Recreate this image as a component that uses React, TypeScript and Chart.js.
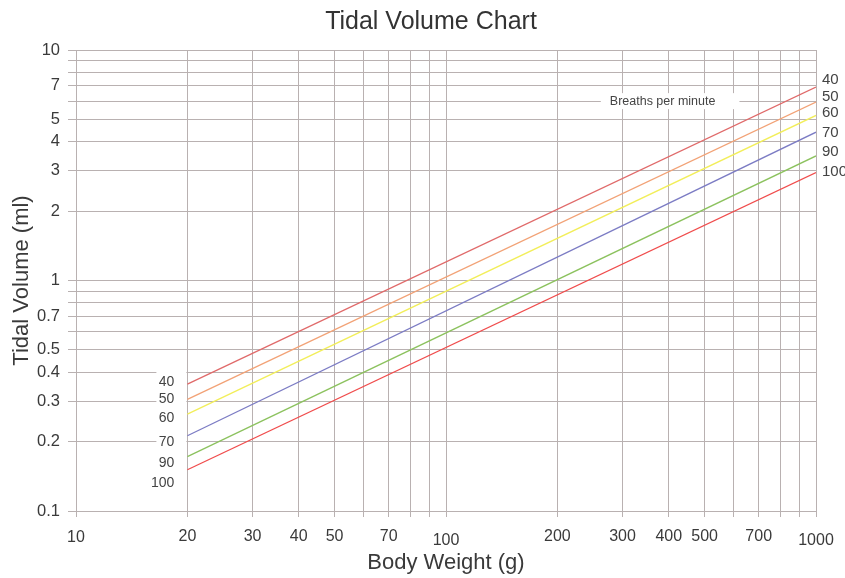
import React, { useEffect, useRef } from "react";
import { Chart, registerables } from "chart.js";

Chart.register(...registerables);

const FONT = "'Liberation Sans', Arial, sans-serif";
const TEXT = "#3a3a3a";
const GRID = "#b9b1b1";

const chartTitle = "Tidal Volume Chart";

// Series: breaths per minute
const breathRates = ["40", "50", "60", "70", "90", "100"];
const weights = [20, 1000];
const tv40 = [0.355, 6.9];
const tv50 = [0.305, 5.95];
const tv60 = [0.263, 5.2];
const tv70 = [0.212, 4.4];
const tv90 = [0.172, 3.47];
const tv100 = [0.151, 2.94];
const seriesValues = [tv40, tv50, tv60, tv70, tv90, tv100];
const seriesColors = ["#e06a6a", "#f2a276", "#f2ee5a", "#7c7cc4", "#8cc25e", "#f04c4c"];

// Axis ticks
const xTickValues = [10, 20, 30, 40, 50, 60, 70, 80, 90, 100, 200, 300, 400, 500, 600, 700, 800, 900, 1000];
const xTickLabels = ["10", "20", "30", "40", "50", "", "70", "", "", "100", "200", "300", "400", "500", "", "700", "", "", "1000"];
const yTickValues = [0.1, 0.2, 0.3, 0.4, 0.5, 0.6, 0.7, 0.8, 0.9, 1, 2, 3, 4, 5, 6, 7, 8, 9, 10];
const yTickLabels = ["0.1", "0.2", "0.3", "0.4", "0.5", "", "0.7", "", "", "1", "2", "3", "4", "5", "", "7", "", "", "10"];

// Series labels (data coordinates)
const leftLabelX = 20;
const leftLabelY = [0.363, 0.306, 0.253, 0.199, 0.161, 0.132];
const rightLabelX = 1000;
const rightLabelY = [7.41, 6.25, 5.33, 4.36, 3.61, 2.96];
const noteText = "Breaths per minute";
const noteX = 385;
const noteY = 6;

const labelPlugin = {
  id: "seriesLabels",
  beforeDatasetsDraw(chart: any) {
    const { ctx, scales } = chart;
    const xs = scales.x;
    const ys = scales.y;
    ctx.save();
    // white box behind left labels
    const lx = xs.getPixelForValue(leftLabelX);
    const topY = ys.getPixelForValue(leftLabelY[0]);
    const botY = ys.getPixelForValue(leftLabelY[leftLabelY.length - 1]);
    ctx.fillStyle = "#ffffff";
    ctx.fillRect(lx - 31, topY - 11, 30, botY - topY + 22);

    ctx.font = "14px " + FONT;
    ctx.fillStyle = "#444";
    ctx.textBaseline = "middle";
    ctx.textAlign = "right";
    breathRates.forEach((r, i) => {
      ctx.fillText(r, lx - 13, ys.getPixelForValue(leftLabelY[i]));
    });
    const rx = xs.getPixelForValue(rightLabelX);
    ctx.font = "15px " + FONT;
    ctx.textAlign = "left";
    breathRates.forEach((r, i) => {
      ctx.fillText(r, rx + 6, ys.getPixelForValue(rightLabelY[i]));
    });

    // note
    ctx.font = "12.5px " + FONT;
    const nx = xs.getPixelForValue(noteX);
    const ny = ys.getPixelForValue(noteY);
    const w = ctx.measureText(noteText).width;
    ctx.fillStyle = "#ffffff";
    ctx.fillRect(nx - w / 2 - 9, ny - 8, w + 33, 16);
    ctx.fillStyle = "#444";
    ctx.textAlign = "center";
    ctx.fillText(noteText, nx, ny);
    ctx.restore();
  },
  afterDraw(chart: any) {
    const { ctx } = chart;
    ctx.save();
    ctx.font = "25px " + FONT;
    ctx.fillStyle = "#333";
    ctx.textAlign = "center";
    ctx.textBaseline = "middle";
    ctx.fillText(chartTitle, 431, 22);
    ctx.restore();
  },
};

export default function App() {
  const ref = useRef<HTMLCanvasElement | null>(null);

  useEffect(() => {
    if (!ref.current) return;
    const chart = new Chart(ref.current, {
      type: "line",
      data: {
        datasets: breathRates.map((r, i) => ({
          label: r,
          data: weights.map((w, j) => ({ x: w, y: seriesValues[i][j] })),
          borderColor: seriesColors[i],
          backgroundColor: seriesColors[i],
          borderWidth: 1.3,
          pointRadius: 0,
          fill: false,
          tension: 0,
        })),
      },
      options: {
        responsive: false,
        animation: false,
        layout: { padding: { top: 50, right: 29, bottom: 0, left: 0 } },
        plugins: {
          legend: { display: false },
          tooltip: { enabled: false },
          title: { display: false },
        },
        scales: {
          x: {
            type: "logarithmic",
            min: 10,
            max: 1000,
            afterBuildTicks: (s: any) => {
              s.ticks = xTickValues.map((v) => ({ value: v }));
            },
            afterFit: (s: any) => {
              s.height = 67;
            },
            grid: { color: GRID, tickLength: 6, lineWidth: 1 },
            border: { display: true, color: GRID },
            ticks: {
              autoSkip: false,
              maxRotation: 0,
              padding: 10,
              color: TEXT,
              font: (c: any) => {
                const v = c.tick ? c.tick.value : 0;
                const lh = v === 100 || v === 1000 ? 27 : v === 10 ? 21 : 19;
                return { size: 16, family: FONT, lineHeight: lh + "px" };
              },
              callback: (_v: any, i: number) => xTickLabels[i],
            },
            title: {
              display: true,
              text: "Body Weight (g)",
              color: TEXT,
              font: { size: 22, family: FONT },
              padding: { top: 0, bottom: 2 },
            },
          },
          y: {
            type: "logarithmic",
            min: 0.1,
            max: 10,
            afterBuildTicks: (s: any) => {
              s.ticks = yTickValues.map((v) => ({ value: v }));
            },
            afterFit: (s: any) => {
              s.width = 76;
            },
            grid: { color: GRID, tickLength: 8, lineWidth: 1 },
            border: { display: true, color: GRID },
            ticks: {
              autoSkip: false,
              padding: 8,
              color: TEXT,
              font: { size: 16.5, family: FONT },
              callback: (_v: any, i: number) => yTickLabels[i],
            },
            title: {
              display: true,
              text: "Tidal Volume (ml)",
              color: TEXT,
              font: { size: 22, family: FONT },
              padding: { top: 9, bottom: 0 },
            },
          },
        },
      },
      plugins: [labelPlugin],
    } as any);
    return () => chart.destroy();
  }, []);

  return (
    <div style={{ position: "absolute", left: 0, top: 0, width: 845, height: 578, background: "#fff" }}>
      <canvas ref={ref} width={845} height={578} style={{ display: "block" }} />
    </div>
  );
}
